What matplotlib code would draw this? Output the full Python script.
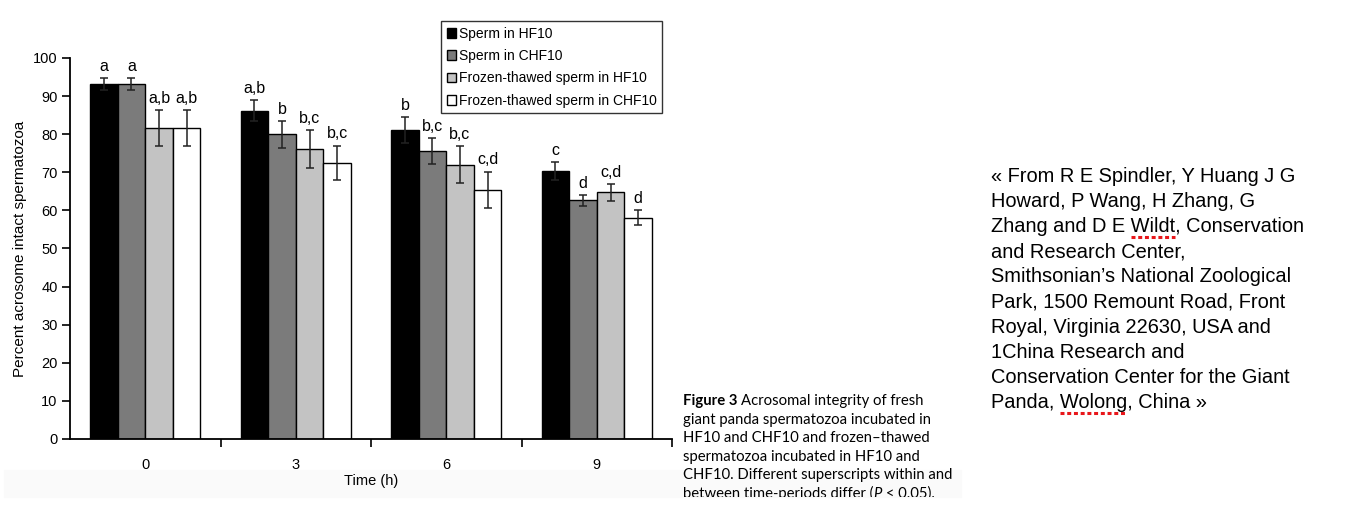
import numpy as np
import matplotlib
matplotlib.use("Agg")
import matplotlib.pyplot as plt
from matplotlib.patches import Rectangle

# data
times = ["0", "3", "6", "9"]
series_names = [
    "Sperm in HF10",
    "Sperm in CHF10",
    "Frozen-thawed sperm in HF10",
    "Frozen-thawed sperm in CHF10",
]
hf10 = [93.1, 86.2, 81.1, 70.4]
chf10 = [93.1, 80.0, 75.5, 62.6]
ft_hf10 = [81.7, 76.1, 72.0, 64.7]
ft_chf10 = [81.7, 72.5, 65.4, 58.1]
hf10_err = [1.6, 2.8, 3.3, 2.3]
chf10_err = [1.6, 3.5, 3.4, 1.4]
ft_hf10_err = [4.7, 5.0, 4.9, 2.3]
ft_chf10_err = [4.7, 4.5, 4.8, 2.0]
hf10_sup = ["a", "a,b", "b", "c"]
chf10_sup = ["a", "b", "b,c", "d"]
ft_hf10_sup = ["a,b", "b,c", "b,c", "c,d"]
ft_chf10_sup = ["a,b", "b,c", "c,d", "d"]

caption_lines = [
    "Acrosomal integrity of fresh",
    "giant panda spermatozoa incubated in",
    "HF10 and CHF10 and frozen\u2013thawed",
    "spermatozoa incubated in HF10 and",
    "CHF10. Different superscripts within and",
    "between time-periods differ (",
]
source_lines = [
    "\u00ab From R E Spindler, Y Huang J G",
    "Howard, P Wang, H Zhang, G",
    "Zhang and D E Wildt, Conservation",
    "and Research Center,",
    "Smithsonian\u2019s National Zoological",
    "Park, 1500 Remount Road, Front",
    "Royal, Virginia 22630, USA and",
    "1China Research and",
    "Conservation Center for the Giant",
    "Panda, Wolong, China \u00bb",
]
misspelled = [(2, "Wildt"), (9, "Wolong")]

W, H = 1352, 522
fig = plt.figure(figsize=(W / 100, H / 100), dpi=100)
plt.rcParams["font.family"] = ["Liberation Sans", "DejaVu Sans"]


def fx(px):
    return px / W


def fy(py):
    return 1 - py / H


# faint grey band at the bottom of the scanned figure
fig.patches.append(Rectangle((fx(4), fy(497)), fx(957), 27 / H,
                             transform=fig.transFigure, color="#fafafa", zorder=-5))

ax = fig.add_axes([fx(70), fy(439), fx(672 - 70), (439 - 58) / H])
x = np.arange(len(times))
w = 0.183
colors = ["black", "#7b7b7b", "#c3c3c3", "white"]
values = [hf10, chf10, ft_hf10, ft_chf10]
errs = [hf10_err, chf10_err, ft_hf10_err, ft_chf10_err]
sups = [hf10_sup, chf10_sup, ft_hf10_sup, ft_chf10_sup]

for i in range(4):
    pos = x + (i - 1.5) * w
    ax.bar(pos, values[i], w, color=colors[i], edgecolor="black", linewidth=1.0,
           label=series_names[i], zorder=2)
    ax.errorbar(pos, values[i], yerr=errs[i], fmt="none", ecolor="#222222",
                elinewidth=1.1, capsize=3, capthick=1.1, zorder=3)
    for p, v, e, s in zip(pos, values[i], errs[i], sups[i]):
        ax.annotate(s, (p, v + e), xytext=(0, 3), textcoords="offset points",
                    ha="center", va="bottom", fontsize=11.5)

ax.set_xlim(-0.5, 3.5)
ax.set_ylim(0, 100)
ax.set_yticks(range(0, 101, 10))
ax.set_xticks(x)
ax.set_xticklabels(times)
ax.set_xticks([0.5, 1.5, 2.5, 3.5], minor=True)
ax.tick_params(axis="x", which="major", length=0, pad=14, labelsize=10.5)
ax.tick_params(axis="x", which="minor", length=6, width=1.2, direction="out")
ax.tick_params(axis="y", length=6, width=1.2, direction="out", labelsize=10.5, pad=3)
for side in ["top", "right"]:
    ax.spines[side].set_visible(False)
for side in ["left", "bottom"]:
    ax.spines[side].set_linewidth(1.3)
ax.spines["left"].set_bounds(0, 100)
ax.patch.set_alpha(0)
ax.set_ylabel("Percent acrosome intact spermatozoa", fontsize=11, labelpad=4)
ax.set_xlabel("Time (h)", fontsize=10.5, labelpad=1)

leg = ax.legend(loc="upper left", bbox_to_anchor=(fx(441), fy(21)),
                bbox_transform=fig.transFigure, fontsize=10, frameon=True,
                fancybox=False, edgecolor="black", borderpad=0.4,
                labelspacing=0.6, handlelength=0.7, handleheight=0.7,
                handletextpad=0.2, borderaxespad=0)
leg.get_frame().set_linewidth(1.0)

fig.canvas.draw()
renderer = fig.canvas.get_renderer()


def width_px(s, **kw):
    t = fig.text(0, 0, s, **kw)
    wpx = t.get_window_extent(renderer).width
    t.remove()
    return wpx


# caption
cap_kw = dict(fontsize=10.7, family=["Lato", "DejaVu Sans"], va="baseline")
clip = Rectangle((0, fy(497)), 1, 497 / H, transform=fig.transFigure, visible=False)
fig.patches.append(clip)
cap_x, cap_y0, cap_dy = 683, 405, 18.6
bold_w = width_px("Figure 3 ", fontweight="bold", **cap_kw)
fig.text(fx(cap_x), fy(cap_y0), "Figure 3 ", fontweight="bold", **cap_kw)
for k, line in enumerate(caption_lines):
    xs = cap_x + (bold_w if k == 0 else 0)
    yb = fy(cap_y0 + k * cap_dy)
    t = fig.text(fx(xs), yb, line, **cap_kw)
    if k == len(caption_lines) - 1:
        t.set_clip_path(clip)
        xs += width_px(line, **cap_kw)
        t2 = fig.text(fx(xs), yb, "P", style="italic", **cap_kw)
        t2.set_clip_path(clip)
        xs += width_px("P", style="italic", **cap_kw)
        t3 = fig.text(fx(xs), yb, " < 0.05).", **cap_kw)
        t3.set_clip_path(clip)

# source note on the right
src_kw = dict(fontsize=14.4, family=["Liberation Sans", "DejaVu Sans"], va="baseline")
src_x, src_y0, src_dy = 991, 182, 25.1
for k, line in enumerate(source_lines):
    fig.text(fx(src_x), fy(src_y0 + k * src_dy), line, **src_kw)
for k, word in misspelled:
    line = source_lines[k]
    start = src_x + width_px(line[: line.index(word)], **src_kw)
    end = start + width_px(word, **src_kw)
    yy = fy(src_y0 + k * src_dy + 5)
    fig.add_artist(plt.Line2D([fx(start), fx(end)], [yy, yy], transform=fig.transFigure,
                              color="#e8161a", linewidth=2.2, linestyle=(0, (1.3, 0.9))))

fig.savefig("out.png", dpi=100)
